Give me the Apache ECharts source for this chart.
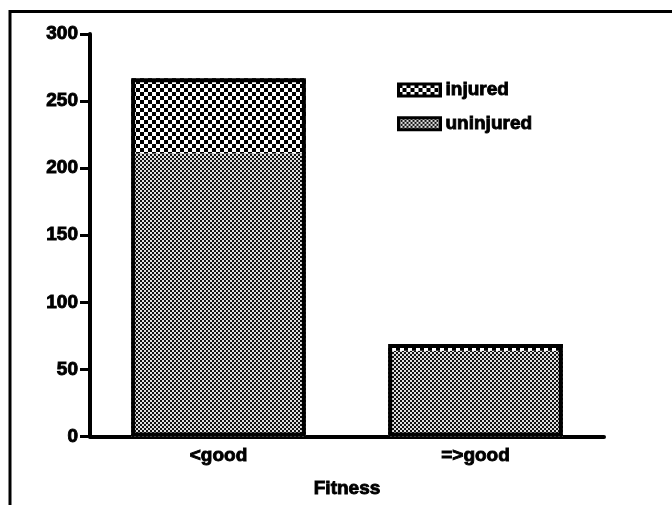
<!DOCTYPE html>
<html>
<head>
<meta charset="utf-8">
<script src="https://cdn.jsdelivr.net/npm/echarts@6/dist/echarts.min.js"></script>
<style>html,body{margin:0;padding:0;background:#fff}#c{width:672px;height:505px}</style>
</head>
<body>
<div id="c"></div>
<script>
const categories = ['<good', '=>good'];
const uninjured = [211, 64];
const injured = [56, 5];
const yTicks = [0, 50, 100, 150, 200, 250, 300];

function checker(cell, dark, light) {
  const c = document.createElement('canvas');
  c.width = cell * 2; c.height = cell * 2;
  const g = c.getContext('2d');
  g.fillStyle = light; g.fillRect(0, 0, c.width, c.height);
  g.fillStyle = dark;
  g.fillRect(0, 0, cell, cell);
  g.fillRect(cell, cell, cell, cell);
  return c;
}
const coarse = { image: checker(4, '#000', '#fff'), repeat: 'repeat' };
const fine = { image: checker(2, '#111', '#e0e0e0'), repeat: 'repeat' };
const totals = uninjured.map((v, i) => v + injured[i]);

const font = { fontFamily: 'Liberation Sans, Arial, sans-serif', fontWeight: 'bold', fontSize: 19, color: '#000',
  textBorderColor: '#000', textBorderWidth: 0.9 };
const chart = echarts.init(document.getElementById('c'), null, { renderer: 'canvas' });
chart.setOption({
  animation: false,
  backgroundColor: '#fff',
  grid: { left: 90, right: 68, top: 34, bottom: 68.5, outerBoundsMode: 'none', containLabel: false },
  legend: {
    data: ['injured', 'uninjured'],
    orient: 'vertical', left: 397, top: 80, padding: 0,
    itemWidth: 42, itemHeight: 12, itemGap: 14,
    icon: 'rect',
    itemStyle: { borderColor: '#000', borderWidth: 3 },
    textStyle: Object.assign({}, font, { padding: [0, 0, 0, 0] })
  },
  graphic: [
    { type: 'line', shape: { x1: 10, y1: 11.5, x2: 672, y2: 11.5 }, style: { stroke: '#000', lineWidth: 3 } },
    { type: 'line', shape: { x1: 10, y1: 10, x2: 10, y2: 505 }, style: { stroke: '#000', lineWidth: 3 } }
  ],
  xAxis: {
    type: 'category', data: categories,
    name: 'Fitness', nameLocation: 'middle', nameGap: 43,
    nameTextStyle: font,
    axisLine: { lineStyle: { color: '#000', width: 4 } },
    axisTick: { alignWithLabel: true, length: 6, lineStyle: { width: 3, color: '#000' } },
    axisLabel: Object.assign({ margin: 10 }, font)
  },
  yAxis: {
    type: 'value', min: 0, max: 300, interval: 50,
    axisLine: { show: true, lineStyle: { color: '#000', width: 4 } },
    axisTick: { show: true, length: 10, lineStyle: { width: 3, color: '#000' } },
    axisLabel: Object.assign({ margin: 12, formatter: v => yTicks.includes(v) ? String(v) : '' }, font),
    splitLine: { show: false }
  },
  series: [
    { name: 'uninjured', type: 'bar', stack: 's', data: uninjured, barWidth: '68%',
      itemStyle: { color: fine } },
    { name: 'injured', type: 'bar', stack: 's', data: injured, barWidth: '68%',
      itemStyle: { color: coarse } },
    { name: 'outline', type: 'bar', data: totals, barWidth: '68%', barGap: '-100%', silent: true,
      itemStyle: { color: 'rgba(0,0,0,0)', borderColor: '#000', borderWidth: 4 }, z: 5 }
  ]
});
</script>
</body>
</html>
